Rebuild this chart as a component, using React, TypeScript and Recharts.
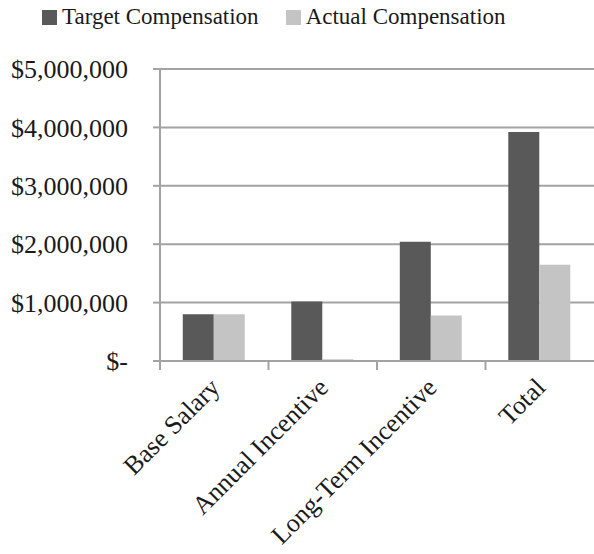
import { BarChart, Bar, XAxis, YAxis, CartesianGrid } from 'recharts'

const categories = ['Base Salary', 'Annual Incentive', 'Long-Term Incentive', 'Total']
const targetComp = [800000, 1020000, 2040000, 3920000]
const actualComp = [800000, 30000, 780000, 1650000]
const yTicks = [0, 1000000, 2000000, 3000000, 4000000, 5000000]

const DARK = '#595959'
const LIGHT = '#c4c4c4'
const GRID = '#a3a3a3'
const FONT = "'Liberation Serif', 'Times New Roman', Times, serif"

const data = categories.map((name, i) => ({
  name,
  target: targetComp[i],
  actual: actualComp[i],
}))

const fmtMoney = (v: number) => (v === 0 ? '$-' : '$' + v.toLocaleString('en-US'))

// category label, rotated, plus the boundary tick on its left edge
const CategoryTick = (props: any) => {
  const { x, y, payload, width, visibleTicksCount } = props
  const bw = width / visibleTicksCount
  return (
    <g>
      <line x1={x - bw / 2} x2={x - bw / 2} y1={y} y2={y + 9} stroke={GRID} strokeWidth={2} />
      <text
        transform={`translate(${x + 7},${y + 28}) rotate(-45)`}
        textAnchor="end"
        style={{ fontFamily: FONT }}
        fontSize={26}
        fill="#1a1a1a"
      >
        {payload.value}
      </text>
    </g>
  )
}

const legendItems = [
  { label: 'Target Compensation', color: DARK },
  { label: 'Actual Compensation', color: LIGHT },
]

export default function App() {
  return (
    <div style={{ position: 'absolute', left: 0, top: 0, width: 594, height: 554, background: '#fff' }}>
      <div
        style={{
          position: 'absolute', top: 2, left: 42, display: 'flex', alignItems: 'center',
          fontFamily: FONT, fontSize: 23, color: '#1a1a1a', lineHeight: '30px',
        }}
      >
        {legendItems.map((it, i) => (
          <div key={it.label} style={{ display: 'flex', alignItems: 'center', marginLeft: i ? 27 : 0 }}>
            <span style={{ display: 'inline-block', width: 15, height: 15, background: it.color, marginRight: 5 }} />
            <span>{it.label}</span>
          </div>
        ))}
      </div>
      <BarChart
        width={594}
        height={554}
        data={data}
        margin={{ top: 69, right: 0, bottom: 0, left: 0 }}
        barCategoryGap="21%"
        barGap={0}
      >
        <CartesianGrid vertical={false} stroke={GRID} strokeWidth={2} />
        <XAxis
          dataKey="name"
          height={193}
          interval={0}
          axisLine={{ stroke: GRID, strokeWidth: 2 }}
          tickLine={false}
          tickSize={0}
          tickMargin={0}
          tick={<CategoryTick />}
        />
        <YAxis
          width={160}
          domain={[0, 5000000]}
          ticks={yTicks}
          tickFormatter={fmtMoney}
          axisLine={{ stroke: GRID, strokeWidth: 2 }}
          tickLine={{ stroke: GRID, strokeWidth: 2 }}
          tickSize={7}
          tickMargin={25}
          tick={{ style: { fontFamily: FONT }, fontSize: 26, fill: '#1a1a1a' }}
        />
        <Bar dataKey="target" name="Target Compensation" fill={DARK} isAnimationActive={false} />
        <Bar dataKey="actual" name="Actual Compensation" fill={LIGHT} isAnimationActive={false} />
      </BarChart>
    </div>
  )
}
